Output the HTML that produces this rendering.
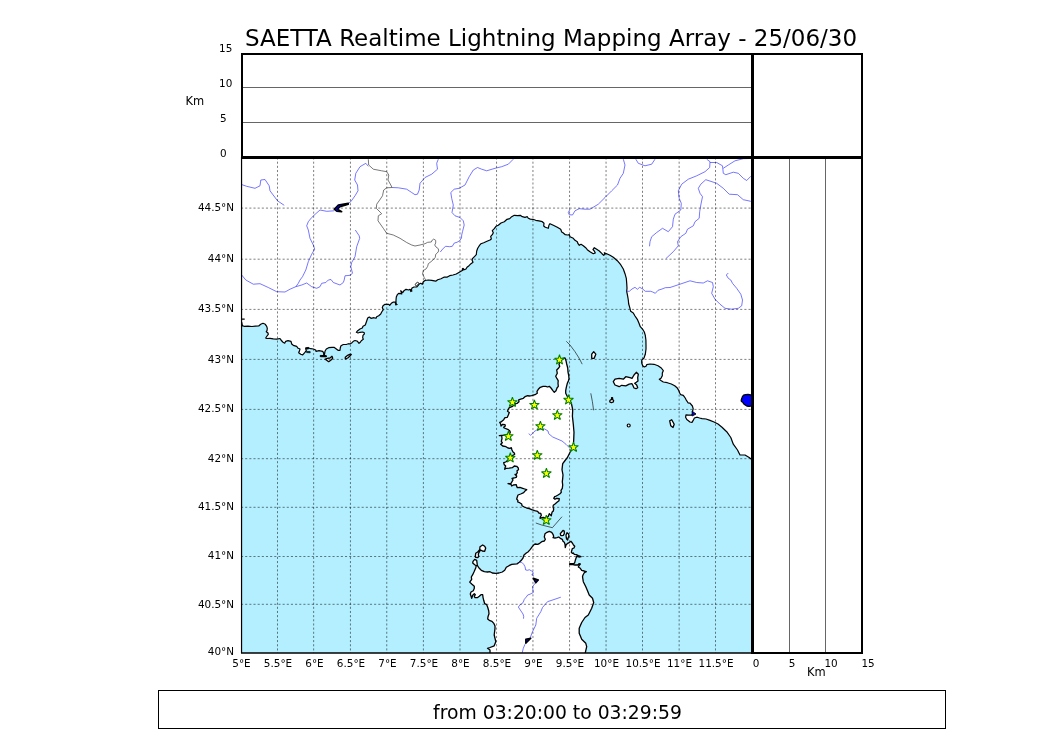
<!DOCTYPE html><html><head><meta charset="utf-8"><title>SAETTA Realtime Lightning Mapping Array</title>
<style>html,body{margin:0;padding:0;background:#fff;overflow:hidden}svg{display:block;will-change:transform}text{font-family:"DejaVu Sans","Liberation Sans",sans-serif;fill:#000}</style></head><body>
<svg width="1050" height="750" viewBox="0 0 1050 750">
<rect width="1050" height="750" fill="#fff"/>
<defs><clipPath id="mc"><rect x="241" y="157.5" width="511" height="495.5"/></clipPath></defs>
<g clip-path="url(#mc)">
<path d="M241.0,326.0 L242.3,325.6 L244.0,326.3 L248.0,326.1 L252.0,326.5 L255.3,326.2 L258.7,326.0 L260.7,324.3 L263.0,323.3 L265.3,324.3 L266.7,326.3 L267.3,328.3 L267.0,330.7 L266.3,331.7 L268.0,333.0 L268.3,334.3 L267.0,336.0 L265.7,338.0 L266.7,338.5 L270.0,338.3 L273.3,338.9 L276.7,339.2 L280.0,338.5 L281.0,340.0 L282.7,342.0 L284.7,343.2 L285.7,341.3 L288.0,340.7 L291.0,341.3 L291.7,344.0 L293.3,345.3 L296.7,346.3 L297.7,348.0 L300.0,349.0 L299.3,351.3 L298.7,352.7 L300.7,354.3 L302.7,354.9 L304.7,352.7 L306.3,350.7 L305.7,348.7 L308.0,347.7 L310.7,348.7 L313.3,349.0 L315.7,350.0 L316.0,351.3 L319.0,350.7 L322.7,351.3 L323.7,353.3 L323.7,355.3 L320.3,356.0 L326.3,356.3 L324.3,355.3 L325.0,351.3 L326.3,349.0 L328.7,347.7 L332.0,347.3 L334.0,347.3 L336.0,348.7 L338.0,350.3 L340.0,350.3 L340.3,347.7 L341.0,345.7 L343.3,344.5 L346.7,344.3 L348.7,343.7 L350.0,344.0 L352.0,342.7 L353.3,341.3 L355.0,340.5 L357.0,341.0 L358.0,342.0 L359.0,343.3 L360.3,342.3 L361.3,340.7 L363.3,339.3 L362.7,337.7 L363.0,335.3 L364.3,334.0 L364.3,332.7 L362.7,332.0 L360.0,332.3 L358.0,333.0 L356.3,332.3 L357.7,330.7 L360.0,329.0 L362.3,328.0 L363.0,326.3 L365.3,325.0 L366.7,321.0 L367.7,318.0 L369.3,317.0 L371.0,318.3 L374.0,317.7 L376.0,318.3 L376.7,316.7 L378.7,315.7 L380.7,314.0 L381.7,312.0 L383.3,309.7 L382.3,307.7 L383.0,305.7 L385.0,304.3 L388.7,304.3 L389.7,305.3 L391.3,303.3 L393.0,302.2 L395.3,302.2 L396.0,304.3 L396.0,300.3 L396.3,297.0 L397.3,294.7 L398.7,293.3 L400.7,293.7 L401.7,294.0 L400.7,290.7 L402.7,292.7 L404.0,290.7 L406.0,289.3 L408.7,290.0 L410.0,289.3 L411.0,291.0 L412.0,288.0 L414.0,287.0 L416.7,287.0 L418.0,285.7 L419.3,284.0 L420.7,283.3 L422.3,284.3 L423.3,281.7 L425.0,280.5 L428.3,280.0 L431.7,280.3 L435.7,281.2 L437.7,279.7 L441.0,278.7 L444.3,277.0 L447.3,277.1 L449.7,275.7 L453.0,275.0 L456.3,274.0 L459.7,272.0 L462.7,270.3 L463.0,268.3 L464.3,269.7 L466.0,269.0 L467.0,267.3 L469.0,265.7 L471.0,263.7 L473.0,262.3 L472.0,260.0 L472.7,258.3 L474.7,256.3 L476.3,254.7 L476.7,251.0 L477.7,248.3 L479.3,245.7 L481.0,243.7 L483.7,242.7 L487.0,241.3 L490.0,240.0 L491.3,239.0 L490.7,236.3 L492.3,234.7 L493.3,232.7 L492.3,230.7 L494.3,228.7 L496.0,226.3 L498.3,225.3 L501.0,223.0 L504.3,221.7 L507.0,219.3 L509.7,218.7 L511.7,216.7 L514.3,215.3 L517.7,215.7 L520.3,215.3 L522.3,216.7 L525.0,217.3 L527.3,216.7 L528.3,218.3 L530.3,219.1 L533.0,219.3 L535.7,220.3 L539.0,220.9 L542.3,221.7 L544.0,223.3 L543.7,226.0 L545.3,227.3 L548.3,228.3 L549.0,225.0 L550.0,223.7 L553.3,225.3 L557.3,227.3 L560.7,229.3 L561.7,232.0 L563.0,232.7 L565.3,234.7 L567.7,235.0 L569.3,234.7 L570.0,236.7 L573.3,238.3 L575.0,240.3 L577.3,241.7 L578.0,243.7 L579.3,245.3 L581.0,244.3 L583.3,245.7 L586.0,248.0 L587.3,249.7 L590.0,251.7 L593.3,253.7 L595.3,253.0 L594.3,251.0 L593.0,249.7 L594.3,247.7 L596.7,249.3 L599.3,251.0 L602.0,253.7 L603.7,255.3 L605.0,254.3 L604.3,252.7 L606.7,253.7 L610.0,255.3 L613.3,257.3 L617.3,260.7 L620.7,264.7 L623.3,269.0 L625.0,273.7 L626.3,278.3 L626.7,283.0 L627.0,288.3 L626.7,291.3 L627.7,296.3 L628.3,300.0 L628.7,304.0 L629.7,307.3 L630.7,311.3 L633.3,313.0 L635.0,316.0 L637.3,319.3 L639.0,323.3 L640.3,326.7 L642.7,329.3 L644.3,332.0 L645.3,335.3 L645.9,340.0 L646.0,345.0 L646.0,349.0 L645.3,354.3 L644.0,358.0 L641.7,360.3 L641.7,363.0 L642.7,365.7 L644.3,367.0 L646.0,366.3 L646.7,364.7 L650.0,364.0 L654.0,364.3 L658.0,365.7 L661.3,368.0 L663.3,370.7 L662.3,373.0 L662.3,375.7 L661.0,378.3 L659.3,379.3 L661.3,380.7 L663.3,382.0 L667.3,382.7 L671.3,384.0 L674.7,385.7 L677.0,387.7 L678.7,390.3 L679.7,393.0 L680.7,394.7 L683.3,395.3 L685.2,398.0 L686.0,399.6 L688.0,402.8 L690.0,403.2 L692.4,406.0 L693.2,408.8 L692.4,411.6 L692.8,413.6 L691.6,415.2 L688.4,415.2 L686.0,414.8 L685.6,417.2 L686.8,419.6 L690.0,422.0 L692.0,422.4 L693.2,420.4 L694.4,418.0 L697.2,417.2 L699.6,418.0 L702.0,418.6 L706.0,419.0 L710.0,420.4 L714.0,422.0 L718.0,424.0 L722.0,427.2 L726.7,431.7 L730.8,437.5 L733.3,444.2 L737.5,450.0 L740.0,455.0 L745.0,455.0 L749.2,457.5 L753.0,460.5 L752.0,653.0 L241.0,653.0Z" fill="#b3efff"/>
<path d="M241.0,326.0 L242.3,325.6 L244.0,326.3 L248.0,326.1 L252.0,326.5 L255.3,326.2 L258.7,326.0 L260.7,324.3 L263.0,323.3 L265.3,324.3 L266.7,326.3 L267.3,328.3 L267.0,330.7 L266.3,331.7 L268.0,333.0 L268.3,334.3 L267.0,336.0 L265.7,338.0 L266.7,338.5 L270.0,338.3 L273.3,338.9 L276.7,339.2 L280.0,338.5 L281.0,340.0 L282.7,342.0 L284.7,343.2 L285.7,341.3 L288.0,340.7 L291.0,341.3 L291.7,344.0 L293.3,345.3 L296.7,346.3 L297.7,348.0 L300.0,349.0 L299.3,351.3 L298.7,352.7 L300.7,354.3 L302.7,354.9 L304.7,352.7 L306.3,350.7 L305.7,348.7 L308.0,347.7 L310.7,348.7 L313.3,349.0 L315.7,350.0 L316.0,351.3 L319.0,350.7 L322.7,351.3 L323.7,353.3 L323.7,355.3 L320.3,356.0 L326.3,356.3 L324.3,355.3 L325.0,351.3 L326.3,349.0 L328.7,347.7 L332.0,347.3 L334.0,347.3 L336.0,348.7 L338.0,350.3 L340.0,350.3 L340.3,347.7 L341.0,345.7 L343.3,344.5 L346.7,344.3 L348.7,343.7 L350.0,344.0 L352.0,342.7 L353.3,341.3 L355.0,340.5 L357.0,341.0 L358.0,342.0 L359.0,343.3 L360.3,342.3 L361.3,340.7 L363.3,339.3 L362.7,337.7 L363.0,335.3 L364.3,334.0 L364.3,332.7 L362.7,332.0 L360.0,332.3 L358.0,333.0 L356.3,332.3 L357.7,330.7 L360.0,329.0 L362.3,328.0 L363.0,326.3 L365.3,325.0 L366.7,321.0 L367.7,318.0 L369.3,317.0 L371.0,318.3 L374.0,317.7 L376.0,318.3 L376.7,316.7 L378.7,315.7 L380.7,314.0 L381.7,312.0 L383.3,309.7 L382.3,307.7 L383.0,305.7 L385.0,304.3 L388.7,304.3 L389.7,305.3 L391.3,303.3 L393.0,302.2 L395.3,302.2 L396.0,304.3 L396.0,300.3 L396.3,297.0 L397.3,294.7 L398.7,293.3 L400.7,293.7 L401.7,294.0 L400.7,290.7 L402.7,292.7 L404.0,290.7 L406.0,289.3 L408.7,290.0 L410.0,289.3 L411.0,291.0 L412.0,288.0 L414.0,287.0 L416.7,287.0 L418.0,285.7 L419.3,284.0 L420.7,283.3 L422.3,284.3 L423.3,281.7 L425.0,280.5 L428.3,280.0 L431.7,280.3 L435.7,281.2 L437.7,279.7 L441.0,278.7 L444.3,277.0 L447.3,277.1 L449.7,275.7 L453.0,275.0 L456.3,274.0 L459.7,272.0 L462.7,270.3 L463.0,268.3 L464.3,269.7 L466.0,269.0 L467.0,267.3 L469.0,265.7 L471.0,263.7 L473.0,262.3 L472.0,260.0 L472.7,258.3 L474.7,256.3 L476.3,254.7 L476.7,251.0 L477.7,248.3 L479.3,245.7 L481.0,243.7 L483.7,242.7 L487.0,241.3 L490.0,240.0 L491.3,239.0 L490.7,236.3 L492.3,234.7 L493.3,232.7 L492.3,230.7 L494.3,228.7 L496.0,226.3 L498.3,225.3 L501.0,223.0 L504.3,221.7 L507.0,219.3 L509.7,218.7 L511.7,216.7 L514.3,215.3 L517.7,215.7 L520.3,215.3 L522.3,216.7 L525.0,217.3 L527.3,216.7 L528.3,218.3 L530.3,219.1 L533.0,219.3 L535.7,220.3 L539.0,220.9 L542.3,221.7 L544.0,223.3 L543.7,226.0 L545.3,227.3 L548.3,228.3 L549.0,225.0 L550.0,223.7 L553.3,225.3 L557.3,227.3 L560.7,229.3 L561.7,232.0 L563.0,232.7 L565.3,234.7 L567.7,235.0 L569.3,234.7 L570.0,236.7 L573.3,238.3 L575.0,240.3 L577.3,241.7 L578.0,243.7 L579.3,245.3 L581.0,244.3 L583.3,245.7 L586.0,248.0 L587.3,249.7 L590.0,251.7 L593.3,253.7 L595.3,253.0 L594.3,251.0 L593.0,249.7 L594.3,247.7 L596.7,249.3 L599.3,251.0 L602.0,253.7 L603.7,255.3 L605.0,254.3 L604.3,252.7 L606.7,253.7 L610.0,255.3 L613.3,257.3 L617.3,260.7 L620.7,264.7 L623.3,269.0 L625.0,273.7 L626.3,278.3 L626.7,283.0 L627.0,288.3 L626.7,291.3 L627.7,296.3 L628.3,300.0 L628.7,304.0 L629.7,307.3 L630.7,311.3 L633.3,313.0 L635.0,316.0 L637.3,319.3 L639.0,323.3 L640.3,326.7 L642.7,329.3 L644.3,332.0 L645.3,335.3 L645.9,340.0 L646.0,345.0 L646.0,349.0 L645.3,354.3 L644.0,358.0 L641.7,360.3 L641.7,363.0 L642.7,365.7 L644.3,367.0 L646.0,366.3 L646.7,364.7 L650.0,364.0 L654.0,364.3 L658.0,365.7 L661.3,368.0 L663.3,370.7 L662.3,373.0 L662.3,375.7 L661.0,378.3 L659.3,379.3 L661.3,380.7 L663.3,382.0 L667.3,382.7 L671.3,384.0 L674.7,385.7 L677.0,387.7 L678.7,390.3 L679.7,393.0 L680.7,394.7 L683.3,395.3 L685.2,398.0 L686.0,399.6 L688.0,402.8 L690.0,403.2 L692.4,406.0 L693.2,408.8 L692.4,411.6 L692.8,413.6 L691.6,415.2 L688.4,415.2 L686.0,414.8 L685.6,417.2 L686.8,419.6 L690.0,422.0 L692.0,422.4 L693.2,420.4 L694.4,418.0 L697.2,417.2 L699.6,418.0 L702.0,418.6 L706.0,419.0 L710.0,420.4 L714.0,422.0 L718.0,424.0 L722.0,427.2 L726.7,431.7 L730.8,437.5 L733.3,444.2 L737.5,450.0 L740.0,455.0 L745.0,455.0 L749.2,457.5 L753.0,460.5" fill="none" stroke="#000" stroke-width="1.2" stroke-linejoin="round"/>
<path d="M241,319.2 L244.7,319.2 M241.6,322 L242.3,325.6" stroke="#000" stroke-width="1.3" fill="none"/>
<path d="M305.6,347.6 L308.8,347.4 L308.6,349 L305.8,349.2Z M306.4,351.4 L310.2,351.6 L310.2,352.8 L306.6,352.6Z M320.3,355.4 L326.3,355.6 L326.3,357 L320.3,356.8Z M462.5,268 L463.8,270 L462,270.3Z M395.3,303 L397.5,304.5 L395.6,305.2Z M410.3,289.5 L412.4,291 L410.5,291.8Z" fill="#000" stroke="#000" stroke-width="0.6"/>
<ellipse cx="417" cy="284" rx="2" ry="1.2" transform="rotate(-45 417 284)" fill="#fff" stroke="#000" stroke-width="0.8"/>
<path d="M565.0,358.0 L561.0,359.0 L559.0,364.3 L559.7,366.3 L558.7,368.0 L556.7,370.0 L557.3,373.3 L555.7,376.3 L557.0,378.7 L558.2,380.7 L558.0,383.3 L558.3,386.3 L557.0,388.0 L556.0,390.7 L554.3,392.3 L552.7,390.3 L551.0,388.0 L549.3,386.3 L547.7,387.0 L545.7,386.3 L543.0,386.3 L540.3,387.3 L538.3,389.3 L537.0,391.3 L537.3,393.3 L535.0,394.7 L531.7,395.7 L529.0,396.0 L527.7,395.7 L525.0,396.7 L523.3,398.3 L520.7,399.1 L518.7,399.8 L519.0,401.7 L517.3,403.3 L515.7,403.7 L512.0,406.7 L509.3,407.7 L508.3,409.3 L507.5,411.3 L509.3,412.5 L508.3,415.0 L507.3,417.3 L505.0,417.7 L503.7,419.7 L501.0,422.0 L499.7,422.3 L500.7,424.3 L501.0,426.0 L502.7,424.3 L505.0,424.7 L505.3,426.0 L503.7,427.3 L504.3,428.0 L507.7,429.3 L509.7,430.7 L510.3,432.3 L509.5,434.0 L504.0,435.2 L499.3,435.7 L501.7,435.7 L502.0,438.7 L501.3,441.3 L502.3,442.7 L500.7,444.3 L502.7,446.0 L506.0,446.7 L508.0,448.0 L510.0,448.3 L511.3,447.7 L512.0,450.0 L513.0,452.0 L514.3,453.0 L514.7,454.3 L513.0,455.3 L510.0,458.5 L505.7,462.0 L503.7,462.7 L504.3,464.7 L505.7,466.0 L505.0,467.7 L504.7,469.3 L506.3,468.3 L509.3,468.1 L512.3,467.7 L514.3,466.0 L516.7,466.3 L518.3,468.0 L518.5,469.7 L517.0,470.7 L517.3,472.7 L516.3,474.3 L515.0,474.5 L516.7,476.0 L516.3,477.3 L514.0,478.0 L512.0,478.3 L513.0,480.0 L512.0,481.7 L511.0,483.3 L508.0,483.7 L511.0,484.3 L511.7,486.0 L513.3,485.0 L516.3,484.7 L516.7,486.3 L517.3,487.7 L520.0,487.3 L522.7,488.3 L524.7,489.0 L526.7,489.7 L525.3,490.7 L523.7,492.7 L520.7,494.0 L518.0,495.0 L517.3,497.0 L516.7,499.0 L518.0,500.7 L517.7,502.0 L519.7,502.7 L521.7,504.0 L522.0,505.7 L524.3,507.0 L526.7,508.0 L529.3,508.7 L531.7,509.7 L534.7,510.7 L537.7,511.3 L538.7,513.0 L540.7,513.3 L541.3,515.3 L540.3,517.0 L540.0,518.3 L542.0,517.7 L543.3,517.3 L546.0,518.5 L548.3,516.3 L549.3,513.7 L551.3,515.7 L552.0,512.3 L553.3,511.0 L553.7,509.0 L553.0,507.0 L553.3,505.3 L555.3,503.7 L557.3,502.0 L559.0,500.7 L559.3,498.7 L556.7,498.3 L555.0,499.3 L553.7,498.3 L554.7,496.7 L556.3,496.0 L558.0,495.0 L560.0,493.7 L561.3,492.3 L561.0,490.3 L562.3,488.3 L562.7,485.0 L562.3,481.7 L562.7,478.3 L563.0,475.0 L562.0,469.7 L562.7,463.7 L564.7,461.0 L567.3,457.7 L569.3,453.7 L571.3,449.7 L573.3,445.7 L573.7,440.3 L574.0,432.3 L573.3,424.3 L572.4,416.3 L572.7,409.7 L571.3,403.0 L569.2,400.0 L568.0,397.3 L566.7,395.3 L565.7,393.3 L565.7,390.7 L566.3,387.3 L567.3,383.3 L568.3,381.3 L569.0,378.7 L568.7,375.3 L568.0,372.0 L567.7,368.0 L566.7,364.0 L566.0,360.7Z" fill="#fff" stroke="#000" stroke-width="1.3" stroke-linejoin="round"/>
<path d="M474.7,559.3 L476.7,560.3 L477.0,562.7 L477.3,565.3 L479.0,568.0 L481.3,570.3 L484.3,571.7 L487.7,572.0 L490.0,571.7 L492.3,573.0 L495.7,573.3 L499.0,573.0 L502.3,572.0 L504.7,570.3 L506.3,567.3 L509.0,565.7 L511.7,564.3 L514.3,564.1 L517.0,563.9 L519.3,562.3 L521.3,560.3 L523.0,558.0 L524.0,555.0 L526.3,553.0 L528.3,551.7 L530.3,549.3 L532.3,546.7 L534.0,544.7 L535.0,544.0 L537.7,544.3 L539.7,543.3 L541.7,541.7 L544.3,541.0 L545.3,539.3 L544.3,537.0 L545.0,533.7 L547.0,532.3 L549.3,531.3 L551.7,532.3 L553.0,534.3 L553.7,536.3 L553.0,537.7 L555.0,538.0 L557.0,537.7 L558.7,537.0 L560.3,538.3 L562.3,539.3 L563.0,541.3 L564.3,542.3 L565.0,544.3 L565.3,547.7 L566.0,545.0 L567.7,543.3 L569.7,542.3 L571.0,541.3 L572.3,543.0 L573.3,544.7 L574.7,546.3 L574.0,548.0 L572.3,548.7 L571.7,550.7 L571.3,552.3 L572.3,553.3 L573.3,553.0 L574.3,554.3 L576.3,554.7 L578.3,555.7 L581.0,556.7 L579.0,557.0 L576.7,556.3 L576.0,558.3 L575.3,560.3 L574.7,562.7 L573.7,563.7 L569.7,563.7 L569.7,564.7 L573.0,564.7 L575.0,565.0 L577.7,565.0 L579.0,563.7 L580.3,564.0 L579.0,565.7 L578.3,567.0 L580.3,568.3 L581.7,570.3 L584.3,571.0 L586.3,571.7 L584.3,572.7 L583.0,575.0 L582.5,576.7 L583.3,581.7 L585.8,586.7 L587.5,590.8 L589.2,595.0 L592.5,598.3 L593.7,602.5 L591.7,608.3 L588.3,615.0 L585.0,617.5 L581.7,622.5 L579.2,628.3 L579.2,633.3 L581.7,639.2 L585.8,643.3 L586.7,646.7 L585.0,654.0 L490.0,654.0 L490.0,650.0 L487.5,648.3 L490.0,647.5 L494.2,645.8 L495.8,641.7 L494.2,635.0 L495.0,628.3 L495.0,626.0 L494.0,623.7 L492.0,621.3 L489.3,620.3 L487.7,619.0 L488.0,616.7 L489.0,613.7 L488.7,610.7 L487.7,607.3 L486.7,604.7 L484.7,603.7 L483.7,600.3 L483.0,597.3 L482.7,594.7 L481.0,594.7 L479.3,596.3 L477.3,597.7 L475.0,597.7 L474.3,596.3 L475.3,594.7 L474.3,593.7 L472.7,595.3 L471.7,598.3 L471.0,596.0 L470.3,594.0 L471.0,592.0 L473.3,590.7 L474.3,588.3 L474.3,586.3 L471.7,584.0 L469.7,582.1 L471.7,579.3 L471.3,577.0 L472.7,574.7 L474.3,571.3 L475.7,568.0 L476.3,565.7 L474.7,564.7 L472.7,563.0 L473.0,561.3Z" fill="#fff" stroke="#000" stroke-width="1.3" stroke-linejoin="round"/>
<path d="M475.3,556.7 L475.7,553.3 L477.7,552.0 L479.7,549.7 L480.0,546.7 L482.7,545.0 L484.7,546.3 L485.7,548.0 L484.7,551.3 L482.3,551.0 L480.7,550.0 L479.3,552.0 L478.3,554.0 L478.7,556.3 L478.0,557.5 L475.7,557.3Z" fill="#fff" stroke="#000" stroke-width="1.3" stroke-linejoin="round"/>
<path d="M560.7,535.3 L560.3,533.7 L561.7,532.0 L563.0,530.3 L564.3,531.0 L564.3,533.7 L563.3,535.3 L561.7,535.7Z" fill="#fff" stroke="#000" stroke-width="1.3" stroke-linejoin="round"/>
<path d="M566.3,537.7 L566.0,535.0 L567.0,532.7 L568.3,533.7 L569.0,535.7 L568.0,538.3 L567.7,540.0 L566.7,539.0Z" fill="#fff" stroke="#000" stroke-width="1.3" stroke-linejoin="round"/>
<path d="M613.3,381.7 L615.0,379.2 L619.2,378.3 L623.3,379.2 L625.8,376.7 L630.0,377.7 L632.0,378.3 L634.0,375.0 L636.3,372.3 L638.3,374.3 L637.7,377.7 L638.0,381.0 L636.3,382.3 L634.7,383.3 L636.7,385.0 L637.7,387.7 L636.0,388.7 L634.0,388.0 L632.7,385.0 L632.0,383.7 L629.2,384.2 L625.8,385.8 L621.7,385.3 L619.2,386.7 L615.0,385.0Z" fill="#fff" stroke="#000" stroke-width="1.3" stroke-linejoin="round"/>
<path d="M591.7,354.2 L593.7,351.7 L595.8,354.2 L594.2,358.3 L591.7,358.3Z" fill="#fff" stroke="#000" stroke-width="1.3" stroke-linejoin="round"/>
<path d="M609.7,401.0 L610.5,399.8 L611.6,399.6 L611.6,397.6 L612.5,397.6 L612.7,399.6 L613.6,400.5 L613.3,402.0 L611.5,402.6 L610.0,402.2Z" fill="#fff" stroke="#000" stroke-width="1.3" stroke-linejoin="round"/>
<path d="M669.7,420.8 L671.7,419.7 L674.2,424.2 L673.0,427.5 L670.8,425.8Z" fill="#fff" stroke="#000" stroke-width="1.3" stroke-linejoin="round"/>
<path d="M325.0,359.3 L327.3,358.3 L330.0,358.0 L332.0,356.3 L332.7,358.3 L331.0,360.0 L328.7,361.7 L326.7,360.3Z" fill="#fff" stroke="#000" stroke-width="1.3" stroke-linejoin="round"/>
<path d="M345.3,359.0 L345.3,357.3 L347.7,355.3 L349.7,354.3 L351.3,354.3 L350.0,356.0 L347.7,358.0Z" fill="#fff" stroke="#000" stroke-width="1.3" stroke-linejoin="round"/>
<circle cx="628.7" cy="425.5" r="1.5" fill="#fff" stroke="#000" stroke-width="1.2"/>
<path d="M242.0,184.7 L246.7,186.3 L255.0,188.3 L260.0,185.8 L260.8,180.0 L265.0,179.5 L269.2,185.8 L270.0,190.8 L277.5,200.8 L284.2,205.3" fill="none" stroke="#3c3cff" stroke-width="0.7" stroke-linejoin="round"/>
<path d="M368.3,166.3 L365.8,163.3 L360.0,166.7 L355.8,173.3 L354.7,180.0 L357.5,185.0 L358.0,190.8 L355.0,195.8 L350.8,201.7 L348.3,203.3" fill="none" stroke="#3c3cff" stroke-width="0.7" stroke-linejoin="round"/>
<path d="M334.2,210.8 L326.7,211.3 L320.0,210.0 L315.8,213.7 L311.7,217.5 L308.3,221.7 L306.7,225.8 L308.3,230.0 L310.0,238.3 L313.3,245.0 L314.7,249.2 L311.7,254.2 L308.3,261.7 L305.8,270.0 L302.5,276.7 L300.0,280.0 L298.3,283.3 L295.8,286.7 L290.0,289.2 L285.0,292.0 L276.7,291.7 L268.3,287.5 L260.0,283.7 L253.3,284.2 L245.8,280.0 L241.7,275.0" fill="none" stroke="#3c3cff" stroke-width="0.7" stroke-linejoin="round"/>
<path d="M355.3,230.0 L359.2,235.8 L359.7,238.3 L356.7,246.7 L355.0,256.7 L351.7,262.5 L350.8,266.7 L352.5,273.3 L350.0,275.3 L345.0,275.8 L344.2,280.0 L343.3,282.5 L340.0,285.0 L333.3,282.5 L331.0,279.5 L328.3,280.0 L325.8,282.5 L321.7,283.3 L320.0,286.7 L316.7,288.3 L311.7,286.7 L306.7,283.0 L301.7,285.0 L295.8,286.7" fill="none" stroke="#3c3cff" stroke-width="0.7" stroke-linejoin="round"/>
<path d="M392.0,187.5 L398.3,187.8 L406.7,189.2 L411.7,192.5 L415.0,194.7 L417.5,194.2 L419.2,190.0 L420.0,183.3 L425.0,177.5 L431.7,174.2 L437.5,169.2 L436.7,163.3 L438.3,159.2" fill="none" stroke="#3c3cff" stroke-width="0.7" stroke-linejoin="round"/>
<path d="M513.3,159.2 L508.3,164.2 L501.7,166.7 L495.0,168.3 L486.7,170.8 L481.7,169.2 L477.5,167.5 L473.3,170.0 L469.2,176.7 L465.0,185.0 L459.2,188.3 L454.2,189.2 L450.8,192.5 L451.7,198.3 L453.3,205.0 L452.0,212.5 L455.0,215.8 L460.0,217.5 L463.3,220.8 L464.2,225.0 L462.5,231.7 L461.7,235.0 L461.5,238.0 L459.7,240.7 L457.0,242.3 L454.3,243.0 L452.3,246.3 L449.7,246.7 L445.7,246.3 L443.3,248.3 L440.3,252.0" fill="none" stroke="#3c3cff" stroke-width="0.7" stroke-linejoin="round"/>
<path d="M570.0,209.2 L568.3,212.5 L569.2,214.7 L572.5,215.0 L575.0,210.8 L579.2,208.7 L585.0,209.2 L590.0,209.2 L598.3,204.2 L605.0,197.5 L611.7,190.8 L617.5,185.0 L620.0,178.3 L623.3,173.3 L625.0,165.0 L623.3,159.2" fill="none" stroke="#3c3cff" stroke-width="0.7" stroke-linejoin="round"/>
<path d="M635.8,159.2 L638.3,163.3 L645.0,165.8 L651.7,164.2 L655.0,159.2" fill="none" stroke="#3c3cff" stroke-width="0.7" stroke-linejoin="round"/>
<path d="M706.7,159.2 L710.0,161.7 L709.7,167.5 L705.0,171.7 L696.7,175.8 L688.3,179.2 L681.7,184.2 L678.3,190.8 L679.2,198.3 L681.3,203.3 L680.8,210.0 L675.0,214.2 L673.3,219.2 L672.5,226.7 L668.3,231.7 L662.5,228.3 L656.7,232.5 L651.7,236.7 L650.0,241.7 L649.5,246.3" fill="none" stroke="#3c3cff" stroke-width="0.7" stroke-linejoin="round"/>
<path d="M710.0,162.5 L716.7,162.5 L722.5,165.8 L723.3,173.3 L725.8,174.7 L733.3,172.2 L738.3,173.3 L743.3,178.3 L746.7,180.5 L750.8,176.3" fill="none" stroke="#3c3cff" stroke-width="0.7" stroke-linejoin="round"/>
<path d="M723.3,168.3 L728.3,165.0 L735.0,160.8 L743.3,158.7 L750.8,158.5" fill="none" stroke="#3c3cff" stroke-width="0.7" stroke-linejoin="round"/>
<path d="M750.8,201.3 L743.3,199.7 L737.5,194.7 L729.2,194.2 L723.3,188.3 L716.7,183.3 L705.8,179.7 L700.8,184.2 L698.3,188.3 L700.0,193.3 L702.5,196.7 L700.8,205.0 L699.7,211.7 L699.2,218.3 L695.0,221.7 L693.3,225.8 L687.5,229.2 L685.8,233.3 L680.8,236.7 L677.5,241.7 L678.3,245.8 L673.3,251.7 L665.8,258.7" fill="none" stroke="#3c3cff" stroke-width="0.7" stroke-linejoin="round"/>
<path d="M728.3,273.0 L726.3,275.0 L728.3,278.3 L730.8,280.0 L732.5,283.3 L736.7,288.3 L740.8,294.2 L742.5,300.0 L741.7,305.8 L738.3,308.3 L731.7,309.2 L725.0,308.3 L720.0,304.2 L715.0,299.2 L711.7,293.3 L713.3,286.7 L712.5,282.5 L707.5,280.8 L703.3,283.0 L696.7,282.5 L690.0,280.8 L680.0,284.2 L670.0,287.5 L665.3,287.7 L662.0,289.0 L658.0,290.3 L655.3,293.3 L652.7,292.0 L650.7,291.3 L645.3,291.3 L642.7,289.0 L639.7,287.3 L637.3,289.3 L635.0,287.3 L632.0,289.0 L629.3,291.3 L626.7,291.3" fill="none" stroke="#3c3cff" stroke-width="0.7" stroke-linejoin="round"/>
<path d="M528.7,433.7 L530.7,435.3 L534.0,431.7 L536.7,430.0 L544.7,429.0 L548.0,431.0 L548.7,433.7 L552.7,437.0 L562.0,441.0 L566.0,444.3 L570.0,448.3" fill="none" stroke="#3c3cff" stroke-width="0.7" stroke-linejoin="round"/>
<path d="M519.3,562.3 L521.7,562.3 L523.7,564.3 L525.0,566.7 L525.7,570.0 L527.7,570.3 L529.3,569.7 L531.7,571.0 L533.0,572.0 L533.0,574.0 L531.7,574.7 L534.0,576.3" fill="none" stroke="#3c3cff" stroke-width="0.7" stroke-linejoin="round"/>
<path d="M535.8,582.5 L532.5,586.7 L533.3,592.5 L530.0,594.2 L527.7,595.0 L526.3,597.0 L524.3,599.3 L523.0,602.7 L520.3,604.7 L518.3,607.0 L520.3,610.0 L523.0,614.0 L523.7,616.3 L523.5,618.7" fill="none" stroke="#3c3cff" stroke-width="0.7" stroke-linejoin="round"/>
<path d="M560.8,597.2 L555.0,599.2 L547.5,601.7 L542.5,607.5 L540.8,611.7 L536.7,618.3 L535.8,625.0 L532.5,631.7 L530.0,638.3" fill="none" stroke="#3c3cff" stroke-width="0.7" stroke-linejoin="round"/>
<path d="M525.0,644.2 L523.3,648.3 L522.2,652.8" fill="none" stroke="#3c3cff" stroke-width="0.7" stroke-linejoin="round"/>
<path d="M368.3,159.2 L368.7,165.0 L373.3,169.2 L381.7,170.8 L386.7,171.7 L388.8,175.0 L388.0,180.0 L390.8,185.0 L392.0,187.5 L386.7,187.8 L383.7,190.0 L382.5,195.8 L379.7,200.0 L376.7,204.2 L376.3,208.3 L381.7,213.7 L378.3,215.8 L378.0,220.8 L383.3,228.3 L386.7,233.3 L393.3,235.0 L400.0,238.3 L406.7,242.5 L411.7,245.0 L415.0,246.0 L420.0,245.0 L425.0,243.7 L427.7,242.3 L431.3,242.0 L432.3,240.0 L433.7,239.1 L435.7,240.3 L435.7,243.0 L434.7,245.0 L436.0,247.0 L438.3,248.7 L438.7,251.0 L437.3,253.0 L435.7,254.3 L435.3,257.3 L433.7,259.3 L431.0,261.7 L428.3,263.7 L427.7,266.3 L426.0,269.0 L423.3,270.5 L422.5,274.2 L423.3,275.5 L424.3,277.7 L425.7,280.0" fill="none" stroke="#555" stroke-width="0.8" stroke-linejoin="round"/>
<path d="M566.3,341.3 L570.0,345.0 L575.0,351.7 L579.2,358.3 L582.2,364.2" fill="none" stroke="#1a1a1a" stroke-width="0.7"/>
<path d="M590.8,393.3 L592.4,401.7 L593.6,410.3" fill="none" stroke="#1a1a1a" stroke-width="0.7"/>
<path d="M535.8,523.0 L541.7,525.0 L552.4,527.7 L562.0,516.7" fill="none" stroke="#1a1a1a" stroke-width="0.7"/>
<path d="M348.3,203.3 L338.3,205.0 L334.2,209.2 L336.7,211.3 L341.7,211.7 L337.5,209.2 L340.0,206.7 L348.3,204.2Z" fill="#0000ff" stroke="#000" stroke-width="1.5" stroke-linejoin="round"/>
<path d="M533.3,578.3 L538.3,580.0 L535.8,582.8Z" fill="#0000ff" stroke="#000" stroke-width="1.5" stroke-linejoin="round"/>
<path d="M525.8,639.2 L530.8,638.3 L525.8,643.3Z" fill="#0000ff" stroke="#000" stroke-width="1.5" stroke-linejoin="round"/>
<path d="M692.2,411.2 L696,414 L692.2,416Z" fill="#0000ff" stroke="#000" stroke-width="0.9" stroke-linejoin="round"/>
<path d="M753,395.3 L748,394.4 L745.6,394.6 L743.6,395.2 L742.4,396.6 L741.8,398.6 L741.2,400.2 L741.4,401.4 L742.8,402.2 L743.6,403.8 L745.2,405 L746.8,406 L749.2,406.4 L753,405.6Z" fill="#0000ff" stroke="#000" stroke-width="1.3" stroke-linejoin="round"/>
<path d="M277.5,157.5 V653" stroke="#000" stroke-width="0.7" stroke-opacity="0.72" stroke-dasharray="2.08,2.08" fill="none"/>
<path d="M313.65,157.5 V653" stroke="#000" stroke-width="0.7" stroke-opacity="0.72" stroke-dasharray="2.08,2.08" fill="none"/>
<path d="M350.45,157.5 V653" stroke="#000" stroke-width="0.7" stroke-opacity="0.72" stroke-dasharray="2.08,2.08" fill="none"/>
<path d="M386.75,157.5 V653" stroke="#000" stroke-width="0.7" stroke-opacity="0.72" stroke-dasharray="2.08,2.08" fill="none"/>
<path d="M423.4,157.5 V653" stroke="#000" stroke-width="0.7" stroke-opacity="0.72" stroke-dasharray="2.08,2.08" fill="none"/>
<path d="M460,157.5 V653" stroke="#000" stroke-width="0.7" stroke-opacity="0.72" stroke-dasharray="2.08,2.08" fill="none"/>
<path d="M496.55,157.5 V653" stroke="#000" stroke-width="0.7" stroke-opacity="0.72" stroke-dasharray="2.08,2.08" fill="none"/>
<path d="M532.95,157.5 V653" stroke="#000" stroke-width="0.7" stroke-opacity="0.72" stroke-dasharray="2.08,2.08" fill="none"/>
<path d="M569.55,157.5 V653" stroke="#000" stroke-width="0.7" stroke-opacity="0.72" stroke-dasharray="2.08,2.08" fill="none"/>
<path d="M606.05,157.5 V653" stroke="#000" stroke-width="0.7" stroke-opacity="0.72" stroke-dasharray="2.08,2.08" fill="none"/>
<path d="M642.5,157.5 V653" stroke="#000" stroke-width="0.7" stroke-opacity="0.72" stroke-dasharray="2.08,2.08" fill="none"/>
<path d="M679.15,157.5 V653" stroke="#000" stroke-width="0.7" stroke-opacity="0.72" stroke-dasharray="2.08,2.08" fill="none"/>
<path d="M715.5,157.5 V653" stroke="#000" stroke-width="0.7" stroke-opacity="0.72" stroke-dasharray="2.08,2.08" fill="none"/>
<path d="M241,208.1 H752" stroke="#000" stroke-width="0.7" stroke-opacity="0.72" stroke-dasharray="2.08,2.08" fill="none"/>
<path d="M241,259.2 H752" stroke="#000" stroke-width="0.7" stroke-opacity="0.72" stroke-dasharray="2.08,2.08" fill="none"/>
<path d="M241,309.4 H752" stroke="#000" stroke-width="0.7" stroke-opacity="0.72" stroke-dasharray="2.08,2.08" fill="none"/>
<path d="M241,359.4 H752" stroke="#000" stroke-width="0.7" stroke-opacity="0.72" stroke-dasharray="2.08,2.08" fill="none"/>
<path d="M241,409.4 H752" stroke="#000" stroke-width="0.7" stroke-opacity="0.72" stroke-dasharray="2.08,2.08" fill="none"/>
<path d="M241,458.7 H752" stroke="#000" stroke-width="0.7" stroke-opacity="0.72" stroke-dasharray="2.08,2.08" fill="none"/>
<path d="M241,507.3 H752" stroke="#000" stroke-width="0.7" stroke-opacity="0.72" stroke-dasharray="2.08,2.08" fill="none"/>
<path d="M241,556.5 H752" stroke="#000" stroke-width="0.7" stroke-opacity="0.72" stroke-dasharray="2.08,2.08" fill="none"/>
<path d="M241,604.3 H752" stroke="#000" stroke-width="0.7" stroke-opacity="0.72" stroke-dasharray="2.08,2.08" fill="none"/>
<path d="M559.5,354.7 L560.7,358.3 L564.4,358.3 L561.4,360.5 L562.6,364.1 L559.5,361.9 L556.4,364.1 L557.6,360.5 L554.6,358.3 L558.3,358.3Z" fill="#ffff00" stroke="#008000" stroke-width="1.04" stroke-linejoin="bevel"/>
<path d="M512.4,397.1 L513.6,400.7 L517.3,400.7 L514.3,402.9 L515.5,406.5 L512.4,404.3 L509.3,406.5 L510.5,402.9 L507.5,400.7 L511.2,400.7Z" fill="#ffff00" stroke="#008000" stroke-width="1.04" stroke-linejoin="bevel"/>
<path d="M534.4,399.8 L535.6,403.4 L539.3,403.4 L536.3,405.6 L537.5,409.2 L534.4,407.0 L531.3,409.2 L532.5,405.6 L529.5,403.4 L533.2,403.4Z" fill="#ffff00" stroke="#008000" stroke-width="1.04" stroke-linejoin="bevel"/>
<path d="M568.5,394.7 L569.7,398.3 L573.4,398.3 L570.4,400.5 L571.6,404.1 L568.5,401.9 L565.4,404.1 L566.6,400.5 L563.6,398.3 L567.3,398.3Z" fill="#ffff00" stroke="#008000" stroke-width="1.04" stroke-linejoin="bevel"/>
<path d="M557.3,410.1 L558.5,413.7 L562.2,413.7 L559.2,415.9 L560.4,419.5 L557.3,417.3 L554.2,419.5 L555.4,415.9 L552.4,413.7 L556.1,413.7Z" fill="#ffff00" stroke="#008000" stroke-width="1.04" stroke-linejoin="bevel"/>
<path d="M540.4,421.1 L541.6,424.7 L545.3,424.7 L542.3,426.9 L543.5,430.5 L540.4,428.3 L537.3,430.5 L538.5,426.9 L535.5,424.7 L539.2,424.7Z" fill="#ffff00" stroke="#008000" stroke-width="1.04" stroke-linejoin="bevel"/>
<path d="M508.4,431.1 L509.6,434.7 L513.3,434.7 L510.3,436.9 L511.5,440.5 L508.4,438.3 L505.3,440.5 L506.5,436.9 L503.5,434.7 L507.2,434.7Z" fill="#ffff00" stroke="#008000" stroke-width="1.04" stroke-linejoin="bevel"/>
<path d="M573.5,442.1 L574.7,445.7 L578.4,445.7 L575.4,447.9 L576.6,451.5 L573.5,449.3 L570.4,451.5 L571.6,447.9 L568.6,445.7 L572.3,445.7Z" fill="#ffff00" stroke="#008000" stroke-width="1.04" stroke-linejoin="bevel"/>
<path d="M537.3,450.1 L538.5,453.7 L542.2,453.7 L539.2,455.9 L540.4,459.5 L537.3,457.3 L534.2,459.5 L535.4,455.9 L532.4,453.7 L536.1,453.7Z" fill="#ffff00" stroke="#008000" stroke-width="1.04" stroke-linejoin="bevel"/>
<path d="M510.3,452.7 L511.5,456.3 L515.2,456.3 L512.2,458.5 L513.4,462.1 L510.3,459.9 L507.2,462.1 L508.4,458.5 L505.4,456.3 L509.1,456.3Z" fill="#ffff00" stroke="#008000" stroke-width="1.04" stroke-linejoin="bevel"/>
<path d="M546.4,468.2 L547.6,471.8 L551.3,471.8 L548.3,474.0 L549.5,477.6 L546.4,475.4 L543.3,477.6 L544.5,474.0 L541.5,471.8 L545.2,471.8Z" fill="#ffff00" stroke="#008000" stroke-width="1.04" stroke-linejoin="bevel"/>
<path d="M546.3,515.1 L547.5,518.7 L551.2,518.7 L548.2,520.9 L549.4,524.5 L546.3,522.3 L543.2,524.5 L544.4,520.9 L541.4,518.7 L545.1,518.7Z" fill="#ffff00" stroke="#008000" stroke-width="1.04" stroke-linejoin="bevel"/>
</g>
<path d="M241.55,157 V653" fill="none" stroke="#000" stroke-width="1.2"/>
<path d="M241,652.9 H752" fill="none" stroke="#000" stroke-width="1.5"/>
<path d="M789.5,158 V652" stroke="#666" stroke-width="1"/>
<path d="M825.5,158 V652" stroke="#666" stroke-width="1"/>
<path d="M243,87.5 H751" stroke="#666" stroke-width="1"/>
<path d="M243,122.5 H751" stroke="#666" stroke-width="1"/>
<path d="M242,54 H862 V653 H752" fill="none" stroke="#000" stroke-width="2"/>
<path d="M242,53 V158" fill="none" stroke="#000" stroke-width="2"/>
<path d="M241,157.5 H863" fill="none" stroke="#000" stroke-width="3"/>
<path d="M752.5,53 V654" fill="none" stroke="#000" stroke-width="3"/>
<rect x="158.5" y="690.5" width="787" height="38" fill="#fff" stroke="#000" stroke-width="1"/>
<text x="551" y="46" font-size="23.01" text-anchor="middle">SAETTA Realtime Lightning Mapping Array - 25/06/30</text>
<text x="557.5" y="718.9" font-size="18.75" text-anchor="middle">from 03:20:00 to 03:29:59</text>
<text x="219.1" y="52.1" font-size="10.42">15</text>
<text x="219.1" y="87.2" font-size="10.42">10</text>
<text x="219.9" y="122.3" font-size="10.42">5</text>
<text x="219.9" y="157.4" font-size="10.42">0</text>
<text x="185.6" y="104.8" font-size="11.46">Km</text>
<text x="234.1" y="210.9" font-size="10.42" text-anchor="end">44.5°N</text>
<text x="234.1" y="261.9" font-size="10.42" text-anchor="end">44°N</text>
<text x="234.1" y="311.9" font-size="10.42" text-anchor="end">43.5°N</text>
<text x="234.1" y="362.7" font-size="10.42" text-anchor="end">43°N</text>
<text x="234.1" y="411.9" font-size="10.42" text-anchor="end">42.5°N</text>
<text x="234.1" y="461.9" font-size="10.42" text-anchor="end">42°N</text>
<text x="234.1" y="509.9" font-size="10.42" text-anchor="end">41.5°N</text>
<text x="234.1" y="558.9" font-size="10.42" text-anchor="end">41°N</text>
<text x="234.1" y="607.9" font-size="10.42" text-anchor="end">40.5°N</text>
<text x="234.1" y="654.9" font-size="10.42" text-anchor="end">40°N</text>
<text x="241.5" y="667" font-size="10.42" text-anchor="middle">5°E</text>
<text x="278.0" y="667" font-size="10.42" text-anchor="middle">5.5°E</text>
<text x="314.5" y="667" font-size="10.42" text-anchor="middle">6°E</text>
<text x="351.0" y="667" font-size="10.42" text-anchor="middle">6.5°E</text>
<text x="387.5" y="667" font-size="10.42" text-anchor="middle">7°E</text>
<text x="424.0" y="667" font-size="10.42" text-anchor="middle">7.5°E</text>
<text x="460.5" y="667" font-size="10.42" text-anchor="middle">8°E</text>
<text x="497.0" y="667" font-size="10.42" text-anchor="middle">8.5°E</text>
<text x="533.5" y="667" font-size="10.42" text-anchor="middle">9°E</text>
<text x="570.0" y="667" font-size="10.42" text-anchor="middle">9.5°E</text>
<text x="606.5" y="667" font-size="10.42" text-anchor="middle">10°E</text>
<text x="643.0" y="667" font-size="10.42" text-anchor="middle">10.5°E</text>
<text x="679.5" y="667" font-size="10.42" text-anchor="middle">11°E</text>
<text x="716.0" y="667" font-size="10.42" text-anchor="middle">11.5°E</text>
<text x="756" y="667" font-size="10.42" text-anchor="middle">0</text>
<text x="792" y="667" font-size="10.42" text-anchor="middle">5</text>
<text x="831" y="667" font-size="10.42" text-anchor="middle">10</text>
<text x="868" y="667" font-size="10.42" text-anchor="middle">15</text>
<text x="807" y="676" font-size="11.46">Km</text>
</svg></body></html>
